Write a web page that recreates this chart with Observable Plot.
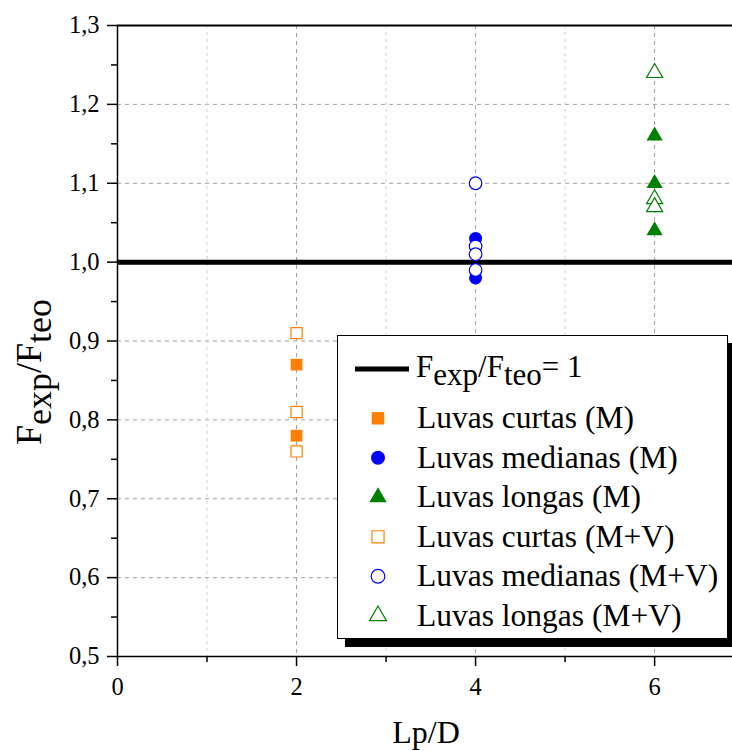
<!DOCTYPE html>
<html><head><meta charset="utf-8">
<script src="https://cdn.jsdelivr.net/npm/d3@7"></script>
<script src="https://cdn.jsdelivr.net/npm/@observablehq/plot@0.6"></script>
<style>
html,body{margin:0;padding:0;background:#fff;overflow:hidden}
</style></head><body>
<div id="chart"></div>
<script>
// ---- data ----
const lpdValues = [2, 4, 6];
const curtasM = [0.87, 0.78];
const medianasM = [1.03, 0.98];
const longasM = [1.16, 1.10, 1.04];
const curtasMV = [0.91, 0.81, 0.76];
const medianasMV = [1.10, 1.02, 1.01, 0.99];
const longasMV = [1.24, 1.08, 1.07];
const seriesNames = ["Luvas curtas (M)", "Luvas medianas (M)", "Luvas longas (M)",
                     "Luvas curtas (M+V)", "Luvas medianas (M+V)", "Luvas longas (M+V)"];
const referenceValue = 1;
const xTicks = [0, 2, 4, 6];
const xTickLabels = ["0", "2", "4", "6"];
const xMinorTicks = [1, 3, 5];
const yTicks = [0.5, 0.6, 0.7, 0.8, 0.9, 1.0, 1.1, 1.2, 1.3];
const yTickLabels = ["0,5", "0,6", "0,7", "0,8", "0,9", "1,0", "1,1", "1,2", "1,3"];
const yMinorTicks = [0.55, 0.65, 0.75, 0.85, 0.95, 1.05, 1.15, 1.25];
const xLabel = "Lp/D";

// ---- styles ----
const ORANGE = "#ff8000", BLUE = "#0000ff", GREEN = "#008000";
const series = [
  {name: seriesNames[0], x: lpdValues[0], values: curtasM, symbol: "square", color: ORANGE, filled: true, r: 6.6},
  {name: seriesNames[1], x: lpdValues[1], values: medianasM, symbol: "circle", color: BLUE, filled: true, r: 6.5},
  {name: seriesNames[2], x: lpdValues[2], values: longasM, symbol: "triangle", color: GREEN, filled: true, r: 6},
  {name: seriesNames[3], x: lpdValues[0], values: curtasMV, symbol: "square", color: ORANGE, filled: false, r: 6.3},
  {name: seriesNames[4], x: lpdValues[1], values: medianasMV, symbol: "circle", color: BLUE, filled: false, r: 6.3},
  {name: seriesNames[5], x: lpdValues[2], values: longasMV, symbol: "triangle", color: GREEN, filled: false, r: 6}
];
const font = "'Liberation Serif', 'Times New Roman', serif";

const dotMarks = series.map(s => Plot.dot(s.values.map(v => ({x: s.x, y: v})), {
  x: "x", y: "y", symbol: s.symbol, r: s.r,
  fill: s.filled ? s.color : "white",
  stroke: s.filled ? "none" : s.color,
  strokeWidth: 1.2
}));

const fmtY = d => yTickLabels[yTicks.findIndex(t => Math.abs(t - d) < 1e-9)];
const fmtX = d => xTickLabels[xTicks.indexOf(d)];
const axisFont = {fontFamily: font, fontSize: 24.5, fontVariant: "normal"};

const plot = Plot.plot({
  width: 732, height: 751,
  marginLeft: 117, marginRight: 0, marginTop: 25, marginBottom: 95,
  style: {fontFamily: font, fontSize: "24px", color: "black", background: "white"},
  x: {domain: [0, 6.87]},
  y: {domain: [0.5, 1.3]},
  marks: [
    Plot.gridY(yTicks.slice(1, -1), {stroke: "#a0a0a0", strokeOpacity: 1, strokeDasharray: "4,4"}),
    Plot.gridX(xMinorTicks, {stroke: "#d0d0d0", strokeOpacity: 1, strokeDasharray: "3,4"}),
    Plot.gridX(xTicks.slice(1), {stroke: "#a0a0a0", strokeOpacity: 1, strokeDasharray: "4,4"}),
    Plot.ruleY([referenceValue], {stroke: "black", strokeWidth: 5}),
    Plot.axisY(yTicks, {tickSize: 10, tickPadding: 8, tickFormat: fmtY, label: null, strokeWidth: 1.5, ...axisFont}),
    Plot.axisY(yMinorTicks, {tickSize: 6, tickFormat: () => "", label: null, strokeWidth: 1.5}),
    Plot.axisX(xTicks, {tickSize: 10, tickPadding: 11, tickFormat: fmtX, label: null, strokeWidth: 1.5, ...axisFont}),
    Plot.axisX(xMinorTicks, {tickSize: 6, tickFormat: () => "", label: null, strokeWidth: 1.5}),
    Plot.ruleX([0], {stroke: "black", strokeWidth: 1.5}),
    Plot.ruleY([0.5], {stroke: "black", strokeWidth: 1.5}),
    Plot.ruleY([1.3], {stroke: "black", strokeWidth: 2}),
    ...dotMarks
  ]
});
document.getElementById("chart").appendChild(plot);

// ---- axis titles ----
const svg = d3.select(plot);
function subText(sel, parts) {
  let prevSub = false;
  parts.forEach(([t, sub]) => {
    const ts = sel.append("tspan").text(t);
    const shift = sub && !prevSub ? "0.27em" : (!sub && prevSub ? "-0.27em" : null);
    if (shift) ts.attr("dy", shift);
    prevSub = sub;
  });
}
svg.append("text")
  .attr("x", 426).attr("y", 743)
  .attr("text-anchor", "middle")
  .attr("font-family", font).attr("font-size", 32).attr("fill", "black")
  .text(xLabel);

const yl = svg.append("text")
  .attr("transform", "translate(41,372) rotate(-90)")
  .attr("text-anchor", "middle")
  .attr("font-family", font).attr("font-size", 36).attr("fill", "black");
subText(yl, [["F", false], ["exp", true], ["/F", false], ["teo", true]]);

// ---- legend ----
const lg = svg.append("g").attr("text-anchor", "start");
lg.append("rect").attr("x", 345).attr("y", 343).attr("width", 400).attr("height", 304).attr("fill", "black");
lg.append("rect").attr("x", 337.5).attr("y", 335.5).attr("width", 390).attr("height", 303)
  .attr("fill", "white").attr("stroke", "black").attr("stroke-width", 1);
lg.append("line").attr("x1", 355).attr("x2", 409).attr("y1", 369).attr("y2", 369)
  .attr("stroke", "black").attr("stroke-width", 5);
const t0 = lg.append("text").attr("x", 416).attr("y", 377).attr("text-anchor", "start")
  .attr("font-family", font).attr("font-size", 31).attr("fill", "black");
subText(t0, [["F", false], ["exp", true], ["/F", false], ["teo", true], ["= 1", false]]);

const symMap = {square: d3.symbolSquare, circle: d3.symbolCircle, triangle: d3.symbolTriangle};
const symSize = {square: 155, circle: 155, triangle: 130};
series.forEach((s, i) => {
  const cy = 418.3 + i * 39.5;
  lg.append("path")
    .attr("d", d3.symbol(symMap[s.symbol], s.filled ? symSize[s.symbol] : symSize[s.symbol] * 0.95)())
    .attr("transform", `translate(378,${cy})`)
    .attr("fill", s.filled ? s.color : "white")
    .attr("stroke", s.filled ? "none" : s.color)
    .attr("stroke-width", 1.2);
  lg.append("text").attr("x", 417).attr("y", cy + 10).attr("text-anchor", "start")
    .attr("font-family", font).attr("font-size", 31.5).attr("fill", "black")
    .text(s.name);
});
</script>
</body></html>
